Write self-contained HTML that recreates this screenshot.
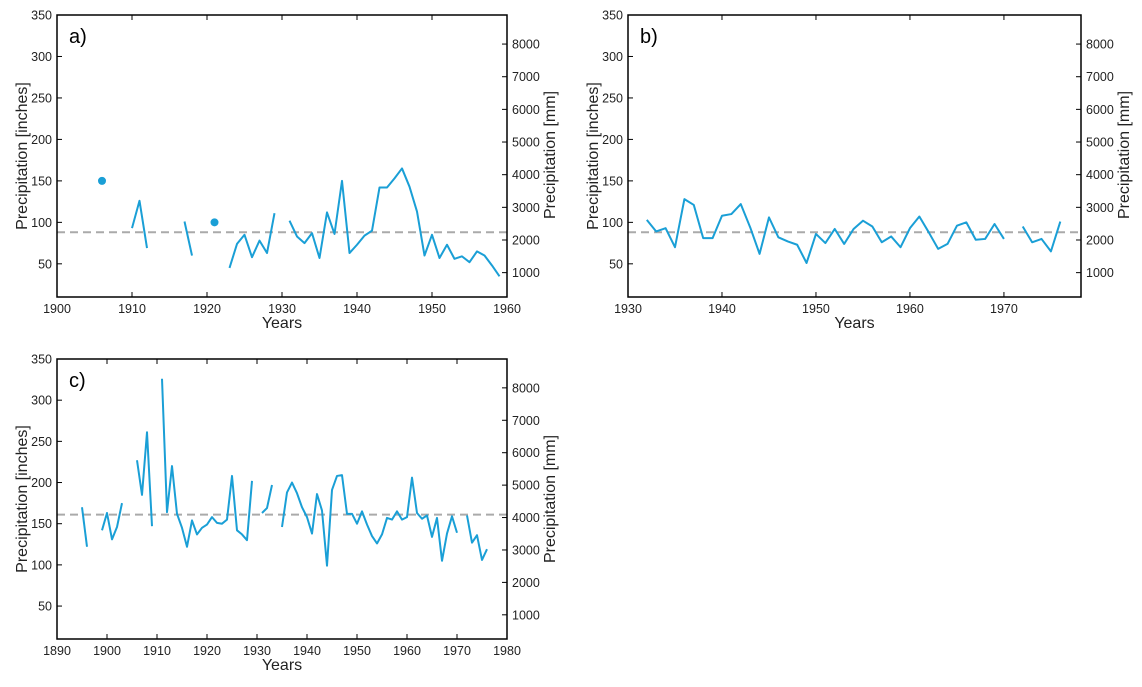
<!DOCTYPE html>
<html><head><meta charset="utf-8"><style>
body{margin:0;background:#fff;width:1142px;height:682px;overflow:hidden}
svg{font-family:"Liberation Sans",Arial,sans-serif}
</style></head><body>
<svg id="s" width="1142" height="682"></svg>
<script>
const N=null;
const yearsA=[1906,1907,1908,1909,1910,1911,1912,1913,1914,1915,1916,1917,1918,1919,1920,1921,1922,1923,1924,1925,1926,1927,1928,1929,1930,1931,1932,1933,1934,1935,1936,1937,1938,1939,1940,1941,1942,1943,1944,1945,1946,1947,1948,1949,1950,1951,1952,1953,1954,1955,1956,1957,1958,1959];
const valuesA=[150,N,N,N,93,126,69,N,N,N,N,101,60,N,N,100,N,45,74,85,58,78,63,111,N,102,83,75,87,57,112,86,150,63,73,84,90,142,142,153,165,143,113,60,85,57,73,56,59,52,65,60,48,35];
const yearsB=[1932,1933,1934,1935,1936,1937,1938,1939,1940,1941,1942,1943,1944,1945,1946,1947,1948,1949,1950,1951,1952,1953,1954,1955,1956,1957,1958,1959,1960,1961,1962,1963,1964,1965,1966,1967,1968,1969,1970,1971,1972,1973,1974,1975,1976];
const valuesB=[103,89,93,70,128,121,81,81,108,110,122,94,62,106,82,77,73,51,86,75,92,74,92,102,95,76,83,70,93,107,88,68,74,96,100,79,80,98,80,N,95,76,80,65,101];
const yearsC=[1895,1896,1897,1898,1899,1900,1901,1902,1903,1904,1905,1906,1907,1908,1909,1910,1911,1912,1913,1914,1915,1916,1917,1918,1919,1920,1921,1922,1923,1924,1925,1926,1927,1928,1929,1930,1931,1932,1933,1934,1935,1936,1937,1938,1939,1940,1941,1942,1943,1944,1945,1946,1947,1948,1949,1950,1951,1952,1953,1954,1955,1956,1957,1958,1959,1960,1961,1962,1963,1964,1965,1966,1967,1968,1969,1970,1971,1972,1973,1974,1975,1976];
const valuesC=[170,122,N,N,142,163,131,146,175,N,N,227,185,261,147,N,326,164,220,162,145,122,154,137,145,149,158,151,150,155,208,142,137,130,202,N,163,169,197,N,146,188,200,187,170,158,138,186,166,99,191,208,209,162,162,150,165,149,135,126,137,157,155,165,155,158,206,163,156,160,134,157,105,138,159,139,N,160,127,136,106,119];
const meanA=88, meanB=88, meanC=161;
const yTicksL=[50,100,150,200,250,300,350];
const yTicksR=[1000,2000,3000,4000,5000,6000,7000,8000];
const xTicksA=[1900,1910,1920,1930,1940,1950,1960];
const xTicksB=[1930,1940,1950,1960,1970];
const xTicksC=[1890,1900,1910,1920,1930,1940,1950,1960,1970,1980];
const svg=document.getElementById('s');
const NS='http://www.w3.org/2000/svg';
function mk(t,a,p){const e=document.createElementNS(NS,t);for(const k in a)e.setAttribute(k,a[k]);(p||svg).appendChild(e);return e;}
function panel(id,L,R,T,B,x0,x1,xt,years,vals,mean,label){
  const g=mk('g',{});
  
  
  const X=v=>L+(v-x0)/(x1-x0)*(R-L);
  const Y=v=>T+(350-v)/340*(B-T);
  const Ymm=v=>Y(v/25.4);
  const ml=mk('line',{x1:L,x2:R,y1:Y(mean),y2:Y(mean),stroke:'#aaa','stroke-width':2,'stroke-dasharray':'8,5'},g);
  
  
  let seg=[];const segs=[];
  years.forEach((y,i)=>{const v=vals[i];if(v===null){if(seg.length)segs.push(seg);seg=[];}else seg.push([X(y),Y(v)]);});
  if(seg.length)segs.push(seg);
  segs.forEach(s=>{
    if(s.length===1){const c=mk('circle',{cx:s[0][0],cy:s[0][1],r:4,fill:'#1a9fd6'},g);
      
      }
    else{const p=mk('polyline',{points:s.map(q=>q.join(',')).join(' '),fill:'none',stroke:'#1a9fd6','stroke-width':2,'stroke-linejoin':'round'},g);
      
      }
  });
  const box=mk('rect',{x:L,y:T,width:R-L,height:B-T,fill:'none',stroke:'#000','stroke-width':1.5},g);
  
  
  yTicksL.forEach(v=>{mk('line',{x1:L,x2:L+5,y1:Y(v),y2:Y(v),stroke:'#000'},g);
    const t=mk('text',{x:L-5,y:Y(v)+4.5,'text-anchor':'end','font-size':12.5,fill:'#222'},g);t.textContent=v;
    
    });
  yTicksR.forEach(v=>{mk('line',{x1:R-5,x2:R,y1:Ymm(v),y2:Ymm(v),stroke:'#000'},g);
    const t=mk('text',{x:R+5,y:Ymm(v)+4.5,'font-size':12.5,fill:'#222'},g);t.textContent=v;
    
    });
  xt.forEach(v=>{mk('line',{x1:X(v),x2:X(v),y1:B,y2:B-5,stroke:'#000'},g);mk('line',{x1:X(v),x2:X(v),y1:T,y2:T+5,stroke:'#000'},g);
    const t=mk('text',{x:X(v),y:B+16,'text-anchor':'middle','font-size':12.5,fill:'#222'},g);t.textContent=v;
    
    });
  const xl=mk('text',{x:(L+R)/2,y:B+31,'text-anchor':'middle','font-size':16,fill:'#222'},g);xl.textContent='Years';
  
  
  const cy=(T+B)/2;
  const yl=mk('text',{x:0,y:0,'text-anchor':'middle','font-size':16,fill:'#222',transform:`translate(${L-30},${cy}) rotate(-90)`},g);yl.textContent='Precipitation [inches]';
  
  
  const yr=mk('text',{x:0,y:0,'text-anchor':'middle','font-size':16,fill:'#222',transform:`translate(${R+48},${T+140}) rotate(-90)`},g);yr.textContent='Precipitation [mm]';
  
  
  const pl=mk('text',{x:L+12,y:T+28,'font-size':20,fill:'#000'},g);pl.textContent=label;
  
  
}
panel('a',57,507,15,297,1900,1960,xTicksA,yearsA,valuesA,meanA,'a)');
panel('b',628,1081,15,297,1930,1978.2,xTicksB,yearsB,valuesB,meanB,'b)');
panel('c',57,507,359,639,1890,1980,xTicksC,yearsC,valuesC,meanC,'c)');
</script>
</body></html>
